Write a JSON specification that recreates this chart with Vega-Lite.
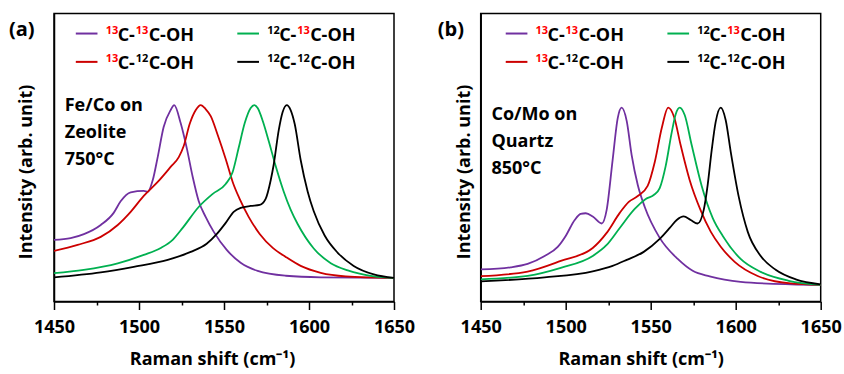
{
  "$schema": "https://vega.github.io/schema/vega-lite/v6.json",
  "background": "white",
  "autosize": {"type": "pad"},
  "padding": {"left": 8, "top": 12.5, "right": 0, "bottom": 0},
  "config": {
    "font": "Open Sans",
    "view": {"stroke": "#000000", "strokeWidth": 1.5},
    "axis": {
      "grid": false,
      "domainColor": "#000000",
      "domainWidth": 1.5,
      "tickColor": "#000000",
      "tickWidth": 1.5,
      "labelColor": "#000000",
      "labelFont": "Open Sans",
      "labelFontSize": 18,
      "labelFontWeight": "bold",
      "titleColor": "#000000",
      "titleFont": "Open Sans",
      "titleFontSize": 18,
      "titleFontWeight": "bold"
    }
  },
  "datasets": {
    "spectra": [
      {"panel":"a","isotopologue":"¹³C-¹³C-OH","shift":1450,"intensity":0.220},
      {"panel":"a","isotopologue":"¹³C-¹³C-OH","shift":1459.8,"intensity":0.230},
      {"panel":"a","isotopologue":"¹³C-¹³C-OH","shift":1467.6,"intensity":0.253},
      {"panel":"a","isotopologue":"¹³C-¹³C-OH","shift":1477.5,"intensity":0.306},
      {"panel":"a","isotopologue":"¹³C-¹³C-OH","shift":1485.1,"intensity":0.376},
      {"panel":"a","isotopologue":"¹³C-¹³C-OH","shift":1489.2,"intensity":0.443},
      {"panel":"a","isotopologue":"¹³C-¹³C-OH","shift":1495.1,"intensity":0.495},
      {"panel":"a","isotopologue":"¹³C-¹³C-OH","shift":1502.8,"intensity":0.503},
      {"panel":"a","isotopologue":"¹³C-¹³C-OH","shift":1505.1,"intensity":0.497},
      {"panel":"a","isotopologue":"¹³C-¹³C-OH","shift":1508.1,"intensity":0.566},
      {"panel":"a","isotopologue":"¹³C-¹³C-OH","shift":1511.0,"intensity":0.699},
      {"panel":"a","isotopologue":"¹³C-¹³C-OH","shift":1514.5,"intensity":0.873},
      {"panel":"a","isotopologue":"¹³C-¹³C-OH","shift":1518.6,"intensity":0.971},
      {"panel":"a","isotopologue":"¹³C-¹³C-OH","shift":1520.7,"intensity":1.000},
      {"panel":"a","isotopologue":"¹³C-¹³C-OH","shift":1524.5,"intensity":0.896},
      {"panel":"a","isotopologue":"¹³C-¹³C-OH","shift":1528.1,"intensity":0.751},
      {"panel":"a","isotopologue":"¹³C-¹³C-OH","shift":1531.6,"intensity":0.584},
      {"panel":"a","isotopologue":"¹³C-¹³C-OH","shift":1535.1,"intensity":0.445},
      {"panel":"a","isotopologue":"¹³C-¹³C-OH","shift":1539.2,"intensity":0.353},
      {"panel":"a","isotopologue":"¹³C-¹³C-OH","shift":1544.0,"intensity":0.266},
      {"panel":"a","isotopologue":"¹³C-¹³C-OH","shift":1551.6,"intensity":0.162},
      {"panel":"a","isotopologue":"¹³C-¹³C-OH","shift":1559.8,"intensity":0.087},
      {"panel":"a","isotopologue":"¹³C-¹³C-OH","shift":1569.8,"intensity":0.040},
      {"panel":"a","isotopologue":"¹³C-¹³C-OH","shift":1586.3,"intensity":0.012},
      {"panel":"a","isotopologue":"¹³C-¹³C-OH","shift":1606.9,"intensity":0.003},
      {"panel":"a","isotopologue":"¹³C-¹³C-OH","shift":1650,"intensity":0.0},

      {"panel":"a","isotopologue":"¹³C-¹²C-OH","shift":1450,"intensity":0.156},
      {"panel":"a","isotopologue":"¹³C-¹²C-OH","shift":1463.9,"intensity":0.191},
      {"panel":"a","isotopologue":"¹³C-¹²C-OH","shift":1477.5,"intensity":0.237},
      {"panel":"a","isotopologue":"¹³C-¹²C-OH","shift":1487.5,"intensity":0.306},
      {"panel":"a","isotopologue":"¹³C-¹²C-OH","shift":1495.1,"intensity":0.382},
      {"panel":"a","isotopologue":"¹³C-¹²C-OH","shift":1502.8,"intensity":0.474},
      {"panel":"a","isotopologue":"¹³C-¹²C-OH","shift":1511.0,"intensity":0.555},
      {"panel":"a","isotopologue":"¹³C-¹²C-OH","shift":1518.6,"intensity":0.642},
      {"panel":"a","isotopologue":"¹³C-¹²C-OH","shift":1523.4,"intensity":0.699},
      {"panel":"a","isotopologue":"¹³C-¹²C-OH","shift":1526.3,"intensity":0.763},
      {"panel":"a","isotopologue":"¹³C-¹²C-OH","shift":1529.8,"intensity":0.890},
      {"panel":"a","isotopologue":"¹³C-¹²C-OH","shift":1533.4,"intensity":0.971},
      {"panel":"a","isotopologue":"¹³C-¹²C-OH","shift":1536.3,"intensity":1.000},
      {"panel":"a","isotopologue":"¹³C-¹²C-OH","shift":1539.2,"intensity":0.977},
      {"panel":"a","isotopologue":"¹³C-¹²C-OH","shift":1542.2,"intensity":0.936},
      {"panel":"a","isotopologue":"¹³C-¹²C-OH","shift":1546.3,"intensity":0.827},
      {"panel":"a","isotopologue":"¹³C-¹²C-OH","shift":1551.0,"intensity":0.688},
      {"panel":"a","isotopologue":"¹³C-¹²C-OH","shift":1555.1,"intensity":0.555},
      {"panel":"a","isotopologue":"¹³C-¹²C-OH","shift":1559.2,"intensity":0.457},
      {"panel":"a","isotopologue":"¹³C-¹²C-OH","shift":1564.5,"intensity":0.353},
      {"panel":"a","isotopologue":"¹³C-¹²C-OH","shift":1571.0,"intensity":0.254},
      {"panel":"a","isotopologue":"¹³C-¹²C-OH","shift":1578.7,"intensity":0.173},
      {"panel":"a","isotopologue":"¹³C-¹²C-OH","shift":1586.3,"intensity":0.121},
      {"panel":"a","isotopologue":"¹³C-¹²C-OH","shift":1595.1,"intensity":0.069},
      {"panel":"a","isotopologue":"¹³C-¹²C-OH","shift":1606.9,"intensity":0.029},
      {"panel":"a","isotopologue":"¹³C-¹²C-OH","shift":1621.6,"intensity":0.009},
      {"panel":"a","isotopologue":"¹³C-¹²C-OH","shift":1650,"intensity":0.0},

      {"panel":"a","isotopologue":"¹²C-¹³C-OH","shift":1450,"intensity":0.027},
      {"panel":"a","isotopologue":"¹²C-¹³C-OH","shift":1467.5,"intensity":0.046},
      {"panel":"a","isotopologue":"¹²C-¹³C-OH","shift":1487.5,"intensity":0.084},
      {"panel":"a","isotopologue":"¹²C-¹³C-OH","shift":1502.8,"intensity":0.133},
      {"panel":"a","isotopologue":"¹²C-¹³C-OH","shift":1512.8,"intensity":0.173},
      {"panel":"a","isotopologue":"¹²C-¹³C-OH","shift":1519.8,"intensity":0.220},
      {"panel":"a","isotopologue":"¹²C-¹³C-OH","shift":1525.7,"intensity":0.289},
      {"panel":"a","isotopologue":"¹²C-¹³C-OH","shift":1535.1,"intensity":0.410},
      {"panel":"a","isotopologue":"¹²C-¹³C-OH","shift":1543.4,"intensity":0.486},
      {"panel":"a","isotopologue":"¹²C-¹³C-OH","shift":1551.0,"intensity":0.543},
      {"panel":"a","isotopologue":"¹²C-¹³C-OH","shift":1555.1,"intensity":0.613},
      {"panel":"a","isotopologue":"¹²C-¹³C-OH","shift":1558.6,"intensity":0.751},
      {"panel":"a","isotopologue":"¹²C-¹³C-OH","shift":1562.2,"intensity":0.896},
      {"panel":"a","isotopologue":"¹²C-¹³C-OH","shift":1565.7,"intensity":0.983},
      {"panel":"a","isotopologue":"¹²C-¹³C-OH","shift":1567.8,"intensity":1.000},
      {"panel":"a","isotopologue":"¹²C-¹³C-OH","shift":1569.8,"intensity":0.983},
      {"panel":"a","isotopologue":"¹²C-¹³C-OH","shift":1572.8,"intensity":0.908},
      {"panel":"a","isotopologue":"¹²C-¹³C-OH","shift":1576.3,"intensity":0.792},
      {"panel":"a","isotopologue":"¹²C-¹³C-OH","shift":1580.4,"intensity":0.647},
      {"panel":"a","isotopologue":"¹²C-¹³C-OH","shift":1585.1,"intensity":0.500},
      {"panel":"a","isotopologue":"¹²C-¹³C-OH","shift":1589.2,"intensity":0.395},
      {"panel":"a","isotopologue":"¹²C-¹³C-OH","shift":1593.4,"intensity":0.310},
      {"panel":"a","isotopologue":"¹²C-¹³C-OH","shift":1602.8,"intensity":0.170},
      {"panel":"a","isotopologue":"¹²C-¹³C-OH","shift":1612.8,"intensity":0.085},
      {"panel":"a","isotopologue":"¹²C-¹³C-OH","shift":1622.8,"intensity":0.043},
      {"panel":"a","isotopologue":"¹²C-¹³C-OH","shift":1638.1,"intensity":0.009},
      {"panel":"a","isotopologue":"¹²C-¹³C-OH","shift":1650,"intensity":0.0},

      {"panel":"a","isotopologue":"¹²C-¹²C-OH","shift":1450,"intensity":0.003},
      {"panel":"a","isotopologue":"¹²C-¹²C-OH","shift":1477.5,"intensity":0.032},
      {"panel":"a","isotopologue":"¹²C-¹²C-OH","shift":1496.9,"intensity":0.064},
      {"panel":"a","isotopologue":"¹²C-¹²C-OH","shift":1516.9,"intensity":0.104},
      {"panel":"a","isotopologue":"¹²C-¹²C-OH","shift":1530.4,"intensity":0.150},
      {"panel":"a","isotopologue":"¹²C-¹²C-OH","shift":1539.8,"intensity":0.197},
      {"panel":"a","isotopologue":"¹²C-¹²C-OH","shift":1545.8,"intensity":0.254},
      {"panel":"a","isotopologue":"¹²C-¹²C-OH","shift":1551.0,"intensity":0.318},
      {"panel":"a","isotopologue":"¹²C-¹²C-OH","shift":1555.7,"intensity":0.382},
      {"panel":"a","isotopologue":"¹²C-¹²C-OH","shift":1559.8,"intensity":0.405},
      {"panel":"a","isotopologue":"¹²C-¹²C-OH","shift":1565.7,"intensity":0.416},
      {"panel":"a","isotopologue":"¹²C-¹²C-OH","shift":1571.0,"intensity":0.422},
      {"panel":"a","isotopologue":"¹²C-¹²C-OH","shift":1574.5,"intensity":0.457},
      {"panel":"a","isotopologue":"¹²C-¹²C-OH","shift":1577.5,"intensity":0.566},
      {"panel":"a","isotopologue":"¹²C-¹²C-OH","shift":1579.2,"intensity":0.653},
      {"panel":"a","isotopologue":"¹²C-¹²C-OH","shift":1582.2,"intensity":0.855},
      {"panel":"a","isotopologue":"¹²C-¹²C-OH","shift":1584.5,"intensity":0.960},
      {"panel":"a","isotopologue":"¹²C-¹²C-OH","shift":1586.9,"intensity":1.000},
      {"panel":"a","isotopologue":"¹²C-¹²C-OH","shift":1589.2,"intensity":0.971},
      {"panel":"a","isotopologue":"¹²C-¹²C-OH","shift":1591.6,"intensity":0.890},
      {"panel":"a","isotopologue":"¹²C-¹²C-OH","shift":1595.1,"intensity":0.682},
      {"panel":"a","isotopologue":"¹²C-¹²C-OH","shift":1599.2,"intensity":0.500},
      {"panel":"a","isotopologue":"¹²C-¹²C-OH","shift":1602.8,"intensity":0.385},
      {"panel":"a","isotopologue":"¹²C-¹²C-OH","shift":1609.2,"intensity":0.245},
      {"panel":"a","isotopologue":"¹²C-¹²C-OH","shift":1616.9,"intensity":0.145},
      {"panel":"a","isotopologue":"¹²C-¹²C-OH","shift":1626.3,"intensity":0.069},
      {"panel":"a","isotopologue":"¹²C-¹²C-OH","shift":1638.1,"intensity":0.020},
      {"panel":"a","isotopologue":"¹²C-¹²C-OH","shift":1650,"intensity":0.0},

      {"panel":"b","isotopologue":"¹³C-¹³C-OH","shift":1450,"intensity":0.087},
      {"panel":"b","isotopologue":"¹³C-¹³C-OH","shift":1467.6,"intensity":0.099},
      {"panel":"b","isotopologue":"¹³C-¹³C-OH","shift":1477.6,"intensity":0.118},
      {"panel":"b","isotopologue":"¹³C-¹³C-OH","shift":1487.6,"intensity":0.163},
      {"panel":"b","isotopologue":"¹³C-¹³C-OH","shift":1495.3,"intensity":0.214},
      {"panel":"b","isotopologue":"¹³C-¹³C-OH","shift":1500.0,"intensity":0.276},
      {"panel":"b","isotopologue":"¹³C-¹³C-OH","shift":1505.3,"intensity":0.366},
      {"panel":"b","isotopologue":"¹³C-¹³C-OH","shift":1508.8,"intensity":0.400},
      {"panel":"b","isotopologue":"¹³C-¹³C-OH","shift":1511.8,"intensity":0.404},
      {"panel":"b","isotopologue":"¹³C-¹³C-OH","shift":1515.9,"intensity":0.386},
      {"panel":"b","isotopologue":"¹³C-¹³C-OH","shift":1521.2,"intensity":0.346},
      {"panel":"b","isotopologue":"¹³C-¹³C-OH","shift":1524.1,"intensity":0.423},
      {"panel":"b","isotopologue":"¹³C-¹³C-OH","shift":1527.6,"intensity":0.704},
      {"panel":"b","isotopologue":"¹³C-¹³C-OH","shift":1530.6,"intensity":0.941},
      {"panel":"b","isotopologue":"¹³C-¹³C-OH","shift":1532.9,"intensity":1.000},
      {"panel":"b","isotopologue":"¹³C-¹³C-OH","shift":1535.9,"intensity":0.924},
      {"panel":"b","isotopologue":"¹³C-¹³C-OH","shift":1538.8,"intensity":0.732},
      {"panel":"b","isotopologue":"¹³C-¹³C-OH","shift":1542.4,"intensity":0.563},
      {"panel":"b","isotopologue":"¹³C-¹³C-OH","shift":1546.5,"intensity":0.439},
      {"panel":"b","isotopologue":"¹³C-¹³C-OH","shift":1555.3,"intensity":0.265},
      {"panel":"b","isotopologue":"¹³C-¹³C-OH","shift":1565.9,"intensity":0.146},
      {"panel":"b","isotopologue":"¹³C-¹³C-OH","shift":1574.7,"intensity":0.079},
      {"panel":"b","isotopologue":"¹³C-¹³C-OH","shift":1584.7,"intensity":0.048},
      {"panel":"b","isotopologue":"¹³C-¹³C-OH","shift":1602.9,"intensity":0.017},
      {"panel":"b","isotopologue":"¹³C-¹³C-OH","shift":1632.4,"intensity":0.003},
      {"panel":"b","isotopologue":"¹³C-¹³C-OH","shift":1650,"intensity":0.0},

      {"panel":"b","isotopologue":"¹³C-¹²C-OH","shift":1450,"intensity":0.049},
      {"panel":"b","isotopologue":"¹³C-¹²C-OH","shift":1477.6,"intensity":0.075},
      {"panel":"b","isotopologue":"¹³C-¹²C-OH","shift":1497.1,"intensity":0.135},
      {"panel":"b","isotopologue":"¹³C-¹²C-OH","shift":1515.9,"intensity":0.208},
      {"panel":"b","isotopologue":"¹³C-¹²C-OH","shift":1524.1,"intensity":0.293},
      {"panel":"b","isotopologue":"¹³C-¹²C-OH","shift":1531.8,"intensity":0.406},
      {"panel":"b","isotopologue":"¹³C-¹²C-OH","shift":1537.1,"intensity":0.468},
      {"panel":"b","isotopologue":"¹³C-¹²C-OH","shift":1542.4,"intensity":0.501},
      {"panel":"b","isotopologue":"¹³C-¹²C-OH","shift":1548.2,"intensity":0.558},
      {"panel":"b","isotopologue":"¹³C-¹²C-OH","shift":1552.4,"intensity":0.693},
      {"panel":"b","isotopologue":"¹³C-¹²C-OH","shift":1556.5,"intensity":0.885},
      {"panel":"b","isotopologue":"¹³C-¹²C-OH","shift":1560.3,"intensity":1.000},
      {"panel":"b","isotopologue":"¹³C-¹²C-OH","shift":1563.8,"intensity":0.946},
      {"panel":"b","isotopologue":"¹³C-¹²C-OH","shift":1567.6,"intensity":0.789},
      {"panel":"b","isotopologue":"¹³C-¹²C-OH","shift":1572.9,"intensity":0.592},
      {"panel":"b","isotopologue":"¹³C-¹²C-OH","shift":1579.4,"intensity":0.420},
      {"panel":"b","isotopologue":"¹³C-¹²C-OH","shift":1585.3,"intensity":0.300},
      {"panel":"b","isotopologue":"¹³C-¹²C-OH","shift":1591.2,"intensity":0.215},
      {"panel":"b","isotopologue":"¹³C-¹²C-OH","shift":1599.4,"intensity":0.130},
      {"panel":"b","isotopologue":"¹³C-¹²C-OH","shift":1612.9,"intensity":0.050},
      {"panel":"b","isotopologue":"¹³C-¹²C-OH","shift":1632.4,"intensity":0.008},
      {"panel":"b","isotopologue":"¹³C-¹²C-OH","shift":1650,"intensity":0.0},

      {"panel":"b","isotopologue":"¹²C-¹³C-OH","shift":1450,"intensity":0.031},
      {"panel":"b","isotopologue":"¹²C-¹³C-OH","shift":1477.6,"intensity":0.051},
      {"panel":"b","isotopologue":"¹²C-¹³C-OH","shift":1497.1,"intensity":0.096},
      {"panel":"b","isotopologue":"¹²C-¹³C-OH","shift":1515.9,"intensity":0.163},
      {"panel":"b","isotopologue":"¹²C-¹³C-OH","shift":1524.1,"intensity":0.225},
      {"panel":"b","isotopologue":"¹²C-¹³C-OH","shift":1531.8,"intensity":0.321},
      {"panel":"b","isotopologue":"¹²C-¹³C-OH","shift":1540.6,"intensity":0.428},
      {"panel":"b","isotopologue":"¹²C-¹³C-OH","shift":1547.1,"intensity":0.485},
      {"panel":"b","isotopologue":"¹²C-¹³C-OH","shift":1551.8,"intensity":0.507},
      {"panel":"b","isotopologue":"¹²C-¹³C-OH","shift":1555.3,"intensity":0.546},
      {"panel":"b","isotopologue":"¹²C-¹³C-OH","shift":1558.8,"intensity":0.670},
      {"panel":"b","isotopologue":"¹²C-¹³C-OH","shift":1562.4,"intensity":0.862},
      {"panel":"b","isotopologue":"¹²C-¹³C-OH","shift":1564.7,"intensity":0.963},
      {"panel":"b","isotopologue":"¹²C-¹³C-OH","shift":1567.1,"intensity":1.000},
      {"panel":"b","isotopologue":"¹²C-¹³C-OH","shift":1570.0,"intensity":0.958},
      {"panel":"b","isotopologue":"¹²C-¹³C-OH","shift":1574.1,"intensity":0.789},
      {"panel":"b","isotopologue":"¹²C-¹³C-OH","shift":1580.0,"intensity":0.558},
      {"panel":"b","isotopologue":"¹²C-¹³C-OH","shift":1586.5,"intensity":0.377},
      {"panel":"b","isotopologue":"¹²C-¹³C-OH","shift":1592.4,"intensity":0.276},
      {"panel":"b","isotopologue":"¹²C-¹³C-OH","shift":1602.9,"intensity":0.146},
      {"panel":"b","isotopologue":"¹²C-¹³C-OH","shift":1614.7,"intensity":0.073},
      {"panel":"b","isotopologue":"¹²C-¹³C-OH","shift":1631.2,"intensity":0.023},
      {"panel":"b","isotopologue":"¹²C-¹³C-OH","shift":1650,"intensity":0.0},

      {"panel":"b","isotopologue":"¹²C-¹²C-OH","shift":1450,"intensity":0.020},
      {"panel":"b","isotopologue":"¹²C-¹²C-OH","shift":1487.6,"intensity":0.042},
      {"panel":"b","isotopologue":"¹²C-¹²C-OH","shift":1515.9,"intensity":0.076},
      {"panel":"b","isotopologue":"¹²C-¹²C-OH","shift":1527.6,"intensity":0.107},
      {"panel":"b","isotopologue":"¹²C-¹²C-OH","shift":1535.9,"intensity":0.141},
      {"panel":"b","isotopologue":"¹²C-¹²C-OH","shift":1545.9,"intensity":0.186},
      {"panel":"b","isotopologue":"¹²C-¹²C-OH","shift":1555.3,"intensity":0.259},
      {"panel":"b","isotopologue":"¹²C-¹²C-OH","shift":1561.2,"intensity":0.321},
      {"panel":"b","isotopologue":"¹²C-¹²C-OH","shift":1565.3,"intensity":0.366},
      {"panel":"b","isotopologue":"¹²C-¹²C-OH","shift":1569.4,"intensity":0.386},
      {"panel":"b","isotopologue":"¹²C-¹²C-OH","shift":1573.5,"intensity":0.366},
      {"panel":"b","isotopologue":"¹²C-¹²C-OH","shift":1577.6,"intensity":0.346},
      {"panel":"b","isotopologue":"¹²C-¹²C-OH","shift":1581.2,"intensity":0.423},
      {"panel":"b","isotopologue":"¹²C-¹²C-OH","shift":1583.5,"intensity":0.563},
      {"panel":"b","isotopologue":"¹²C-¹²C-OH","shift":1585.9,"intensity":0.761},
      {"panel":"b","isotopologue":"¹²C-¹²C-OH","shift":1588.2,"intensity":0.918},
      {"panel":"b","isotopologue":"¹²C-¹²C-OH","shift":1591.2,"intensity":1.000},
      {"panel":"b","isotopologue":"¹²C-¹²C-OH","shift":1594.1,"intensity":0.930},
      {"panel":"b","isotopologue":"¹²C-¹²C-OH","shift":1597.1,"intensity":0.749},
      {"panel":"b","isotopologue":"¹²C-¹²C-OH","shift":1601.8,"intensity":0.496},
      {"panel":"b","isotopologue":"¹²C-¹²C-OH","shift":1607.1,"intensity":0.299},
      {"panel":"b","isotopologue":"¹²C-¹²C-OH","shift":1614.7,"intensity":0.163},
      {"panel":"b","isotopologue":"¹²C-¹²C-OH","shift":1623.5,"intensity":0.085},
      {"panel":"b","isotopologue":"¹²C-¹²C-OH","shift":1635.3,"intensity":0.031},
      {"panel":"b","isotopologue":"¹²C-¹²C-OH","shift":1650,"intensity":0.003}
    ],
    "key": [
      {"panel":"a","isotopologue":"¹³C-¹³C-OH","first":"13","second":"13","shift":1469.2,"intensity":1.414},
      {"panel":"a","isotopologue":"¹²C-¹³C-OH","first":"12","second":"13","shift":1564.2,"intensity":1.414},
      {"panel":"a","isotopologue":"¹³C-¹²C-OH","first":"13","second":"12","shift":1469.2,"intensity":1.250},
      {"panel":"a","isotopologue":"¹²C-¹²C-OH","first":"12","second":"12","shift":1564.2,"intensity":1.250},
      {"panel":"b","isotopologue":"¹³C-¹³C-OH","first":"13","second":"13","shift":1471.1,"intensity":1.418},
      {"panel":"b","isotopologue":"¹²C-¹³C-OH","first":"12","second":"13","shift":1566.2,"intensity":1.418},
      {"panel":"b","isotopologue":"¹³C-¹²C-OH","first":"13","second":"12","shift":1471.1,"intensity":1.258},
      {"panel":"b","isotopologue":"¹²C-¹²C-OH","first":"12","second":"12","shift":1566.2,"intensity":1.258}
    ],
    "notes": [
      {"panel":"a","label":"Fe/Co on\nZeolite\n750°C","shift":1456.3,"intensity":0.964},
      {"panel":"b","label":"Co/Mo on\nQuartz\n850°C","shift":1456.3,"intensity":0.932}
    ]
  },
  "bounds": "flush",
  "spacing": 86.7,
  "hconcat": [
    {
      "width": 340,
      "height": 288,
      "title": {"text": "(a)", "anchor": "start", "frame": "group", "offset": -24, "dx": -45, "dy": 18, "baseline": "alphabetic", "fontSize": 20, "fontWeight": "bold", "font": "Open Sans", "color": "#000000"},
      "layer": [
        {
          "data": {"name": "spectra"},
          "transform": [{"filter": "datum.panel === 'a'"}],
          "mark": {"type": "line", "strokeWidth": 1.8, "interpolate": "monotone", "clip": true},
          "encoding": {
            "x": {"field": "shift", "type": "quantitative",
                  "scale": {"domain": [1450, 1650], "nice": false, "zero": false},
                  "axis": {"values": [1450, 1475, 1500, 1525, 1550, 1575, 1600, 1625, 1650], "format": "d",
                           "labelExpr": "datum.value % 50 === 0 ? datum.label : ''",
                           "tickSize": {"condition": {"test": "datum.value % 50 === 0", "value": 8}, "value": 3.5},
                           "labelPadding": 9, "labelFlush": false, "labelOverlap": false,
                           "title": "Raman shift (cm⁻¹)", "titlePadding": 14, "titleX": 158}},
            "y": {"field": "intensity", "type": "quantitative",
                  "scale": {"domain": [-0.137, 1.53], "nice": false, "zero": false},
                  "axis": {"labels": false, "ticks": false, "title": "Intensity (arb. unit)", "titlePadding": 19, "titleY": 158}},
            "color": {"field": "isotopologue", "type": "nominal",
                      "scale": {"domain": ["¹³C-¹³C-OH", "¹³C-¹²C-OH", "¹²C-¹³C-OH", "¹²C-¹²C-OH"], "range": ["#7030a0", "#cc0000", "#00b050", "#000000"]},
                      "legend": null}
          }
        },
        {
          "data": {"name": "key"},
          "transform": [{"filter": "datum.panel === 'a'"}],
          "mark": {"type": "point", "shape": "stroke", "size": 470, "strokeWidth": 2, "opacity": 1},
          "encoding": {
            "x": {"field": "shift", "type": "quantitative"},
            "y": {"field": "intensity", "type": "quantitative"},
            "color": {"field": "isotopologue", "type": "nominal"}
          }
        },
        {
          "data": {"name": "key"},
          "transform": [{"filter": "datum.panel === 'a'"}],
          "mark": {"type": "text", "align": "left", "baseline": "alphabetic", "dx": 19, "dy": 0, "fontSize": 11, "fontWeight": "bold"},
          "encoding": {
            "x": {"field": "shift", "type": "quantitative"},
            "y": {"field": "intensity", "type": "quantitative"},
            "text": {"field": "first"},
            "color": {"condition": {"test": "datum.first === '13'", "value": "#ff0000"}, "value": "#000000"}
          }
        },
        {
          "data": {"name": "key"},
          "transform": [{"filter": "datum.panel === 'a'"}],
          "mark": {"type": "text", "align": "left", "baseline": "alphabetic", "dx": 31, "dy": 7.5, "fontSize": 18, "fontWeight": "bold", "color": "#000000"},
          "encoding": {
            "x": {"field": "shift", "type": "quantitative"},
            "y": {"field": "intensity", "type": "quantitative"},
            "text": {"value": "C-"}
          }
        },
        {
          "data": {"name": "key"},
          "transform": [{"filter": "datum.panel === 'a'"}],
          "mark": {"type": "text", "align": "left", "baseline": "alphabetic", "dx": 49, "dy": 0, "fontSize": 11, "fontWeight": "bold"},
          "encoding": {
            "x": {"field": "shift", "type": "quantitative"},
            "y": {"field": "intensity", "type": "quantitative"},
            "text": {"field": "second"},
            "color": {"condition": {"test": "datum.second === '13'", "value": "#ff0000"}, "value": "#000000"}
          }
        },
        {
          "data": {"name": "key"},
          "transform": [{"filter": "datum.panel === 'a'"}],
          "mark": {"type": "text", "align": "left", "baseline": "alphabetic", "dx": 62, "dy": 7.5, "fontSize": 18, "fontWeight": "bold", "color": "#000000"},
          "encoding": {
            "x": {"field": "shift", "type": "quantitative"},
            "y": {"field": "intensity", "type": "quantitative"},
            "text": {"value": "C-OH"}
          }
        },
        {
          "data": {"name": "notes"},
          "transform": [{"filter": "datum.panel === 'a'"}],
          "mark": {"type": "text", "align": "left", "baseline": "alphabetic", "lineBreak": "\n", "lineHeight": 27, "fontSize": 18, "fontWeight": "bold", "color": "#000000"},
          "encoding": {
            "x": {"field": "shift", "type": "quantitative"},
            "y": {"field": "intensity", "type": "quantitative"},
            "text": {"field": "label"}
          }
        }
      ]
    },
    {
      "width": 340,
      "height": 288,
      "title": {"text": "(b)", "anchor": "start", "frame": "group", "offset": -24, "dx": -43, "dy": 18, "baseline": "alphabetic", "fontSize": 20, "fontWeight": "bold", "font": "Open Sans", "color": "#000000"},
      "layer": [
        {
          "data": {"name": "spectra"},
          "transform": [{"filter": "datum.panel === 'b'"}],
          "mark": {"type": "line", "strokeWidth": 1.8, "interpolate": "monotone", "clip": true},
          "encoding": {
            "x": {"field": "shift", "type": "quantitative",
                  "scale": {"domain": [1450, 1650], "nice": false, "zero": false},
                  "axis": {"values": [1450, 1475, 1500, 1525, 1550, 1575, 1600, 1625, 1650], "format": "d",
                           "labelExpr": "datum.value % 50 === 0 ? datum.label : ''",
                           "tickSize": {"condition": {"test": "datum.value % 50 === 0", "value": 8}, "value": 3.5},
                           "labelPadding": 9, "labelFlush": false, "labelOverlap": false,
                           "title": "Raman shift (cm⁻¹)", "titlePadding": 14, "titleX": 160}},
            "y": {"field": "intensity", "type": "quantitative",
                  "scale": {"domain": [-0.094, 1.531], "nice": false, "zero": false},
                  "axis": {"labels": false, "ticks": false, "title": "Intensity (arb. unit)", "titlePadding": 7, "titleY": 158}},
            "color": {"field": "isotopologue", "type": "nominal",
                      "scale": {"domain": ["¹³C-¹³C-OH", "¹³C-¹²C-OH", "¹²C-¹³C-OH", "¹²C-¹²C-OH"], "range": ["#7030a0", "#cc0000", "#00b050", "#000000"]},
                      "legend": null}
          }
        },
        {
          "data": {"name": "key"},
          "transform": [{"filter": "datum.panel === 'b'"}],
          "mark": {"type": "point", "shape": "stroke", "size": 470, "strokeWidth": 2, "opacity": 1},
          "encoding": {
            "x": {"field": "shift", "type": "quantitative"},
            "y": {"field": "intensity", "type": "quantitative"},
            "color": {"field": "isotopologue", "type": "nominal"}
          }
        },
        {
          "data": {"name": "key"},
          "transform": [{"filter": "datum.panel === 'b'"}],
          "mark": {"type": "text", "align": "left", "baseline": "alphabetic", "dx": 19, "dy": 0, "fontSize": 11, "fontWeight": "bold"},
          "encoding": {
            "x": {"field": "shift", "type": "quantitative"},
            "y": {"field": "intensity", "type": "quantitative"},
            "text": {"field": "first"},
            "color": {"condition": {"test": "datum.first === '13'", "value": "#ff0000"}, "value": "#000000"}
          }
        },
        {
          "data": {"name": "key"},
          "transform": [{"filter": "datum.panel === 'b'"}],
          "mark": {"type": "text", "align": "left", "baseline": "alphabetic", "dx": 31, "dy": 7.5, "fontSize": 18, "fontWeight": "bold", "color": "#000000"},
          "encoding": {
            "x": {"field": "shift", "type": "quantitative"},
            "y": {"field": "intensity", "type": "quantitative"},
            "text": {"value": "C-"}
          }
        },
        {
          "data": {"name": "key"},
          "transform": [{"filter": "datum.panel === 'b'"}],
          "mark": {"type": "text", "align": "left", "baseline": "alphabetic", "dx": 49, "dy": 0, "fontSize": 11, "fontWeight": "bold"},
          "encoding": {
            "x": {"field": "shift", "type": "quantitative"},
            "y": {"field": "intensity", "type": "quantitative"},
            "text": {"field": "second"},
            "color": {"condition": {"test": "datum.second === '13'", "value": "#ff0000"}, "value": "#000000"}
          }
        },
        {
          "data": {"name": "key"},
          "transform": [{"filter": "datum.panel === 'b'"}],
          "mark": {"type": "text", "align": "left", "baseline": "alphabetic", "dx": 62, "dy": 7.5, "fontSize": 18, "fontWeight": "bold", "color": "#000000"},
          "encoding": {
            "x": {"field": "shift", "type": "quantitative"},
            "y": {"field": "intensity", "type": "quantitative"},
            "text": {"value": "C-OH"}
          }
        },
        {
          "data": {"name": "notes"},
          "transform": [{"filter": "datum.panel === 'b'"}],
          "mark": {"type": "text", "align": "left", "baseline": "alphabetic", "lineBreak": "\n", "lineHeight": 27, "fontSize": 18, "fontWeight": "bold", "color": "#000000"},
          "encoding": {
            "x": {"field": "shift", "type": "quantitative"},
            "y": {"field": "intensity", "type": "quantitative"},
            "text": {"field": "label"}
          }
        }
      ]
    }
  ]
}
